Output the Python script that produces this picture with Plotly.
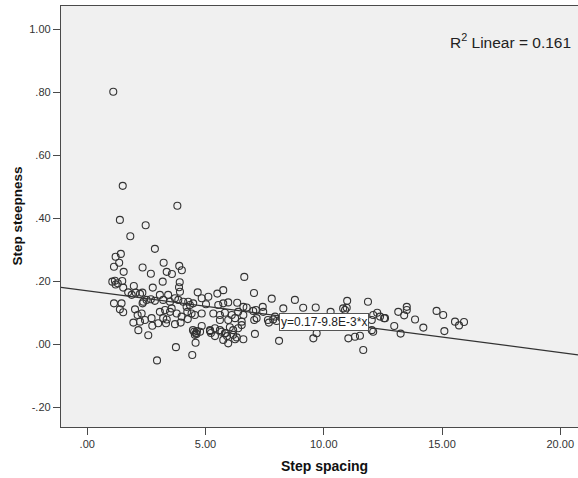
import plotly.graph_objects as go

# Step spacing (x) and step steepness (y) observations
step_spacing = [
    1.10, 1.50, 3.81, 1.38, 2.47, 1.82, 2.86, 1.20, 1.42, 1.35, 1.13, 1.54, 2.34, 2.69, 3.23, 3.36,
    3.58, 3.89, 4.00, 6.64, 1.06, 1.17, 1.29, 1.48, 1.20, 1.52, 2.77, 3.19, 3.91, 3.88, 1.97, 7.05,
    1.73, 1.88, 2.05, 2.23, 2.33, 2.37, 2.34, 2.51, 2.69, 2.86, 3.07, 3.21, 3.42, 3.50, 3.71, 3.92,
    3.85, 4.06, 4.27, 4.34, 4.20, 4.48, 4.67, 1.13, 1.45, 1.38, 1.52, 2.02, 2.30, 2.13, 1.95, 2.23,
    2.44, 2.16, 2.58, 2.75, 2.72, 3.00, 3.07, 3.21, 3.33, 3.36, 3.29, 3.50, 3.57, 3.71, 3.95, 3.99,
    4.25, 4.23, 4.41, 3.78, 4.52, 4.60, 4.55, 4.47, 4.58, 3.75, 4.44, 2.95, 4.84, 5.12, 5.50, 5.75,
    5.02, 5.54, 5.75, 5.96, 6.34, 6.60, 6.74, 7.02, 7.13, 7.42, 7.44, 7.80, 8.29, 8.78, 7.94, 7.86,
    7.68, 8.01, 4.84, 4.55, 5.33, 5.61, 5.82, 6.11, 6.38, 6.60, 5.61, 5.96, 6.25, 6.53, 7.06, 7.16,
    4.84, 5.19, 5.40, 5.61, 5.68, 6.03, 6.17, 6.38, 6.53, 4.77, 5.40, 5.82, 6.17, 6.32, 5.75, 5.96,
    6.25, 6.60, 7.09, 8.11, 8.22, 7.64, 4.62, 4.64, 5.19, 5.23, 5.86, 5.91, 9.13, 9.66, 10.99, 10.82,
    10.97, 10.90, 11.87, 12.26, 12.09, 12.38, 12.55, 12.03, 12.03, 12.09, 9.56, 9.70, 11.04, 11.32,
    11.53, 11.67, 10.97, 10.29, 8.99, 9.92, 10.68, 8.57, 12.59, 12.98, 13.25, 13.15, 13.40, 13.51,
    13.51, 13.86, 14.21, 14.77, 15.05, 15.10, 15.55, 15.72, 15.93,
]
step_steepness = [
    0.802, 0.503, 0.440, 0.395, 0.378, 0.343, 0.303, 0.278, 0.287, 0.259, 0.246, 0.230, 0.244, 0.224, 0.259, 0.230,
    0.223, 0.249, 0.235, 0.214, 0.199, 0.202, 0.194, 0.201, 0.190, 0.180, 0.180, 0.199, 0.197, 0.181, 0.185, 0.163,
    0.165, 0.157, 0.164, 0.160, 0.164, 0.135, 0.130, 0.141, 0.143, 0.138, 0.157, 0.141, 0.157, 0.135, 0.146, 0.167,
    0.141, 0.135, 0.135, 0.125, 0.119, 0.130, 0.165, 0.130, 0.130, 0.111, 0.102, 0.111, 0.098, 0.093, 0.069, 0.072,
    0.077, 0.045, 0.029, 0.059, 0.083, 0.067, 0.103, 0.083, 0.067, 0.079, 0.109, 0.103, 0.114, 0.064, 0.069, 0.088,
    0.080, 0.103, 0.098, 0.098, 0.040, 0.036, 0.030, 0.045, 0.005, -0.009, -0.034, -0.051, 0.146, 0.151, 0.161, 0.172,
    0.127, 0.125, 0.130, 0.133, 0.132, 0.119, 0.117, 0.106, 0.109, 0.119, 0.103, 0.145, 0.114, 0.141, 0.088, 0.079,
    0.069, 0.074, 0.098, 0.093, 0.098, 0.093, 0.100, 0.093, 0.103, 0.093, 0.077, 0.077, 0.083, 0.072, 0.077, 0.083,
    0.058, 0.045, 0.051, 0.045, 0.040, 0.054, 0.045, 0.051, 0.061, 0.040, 0.026, 0.035, 0.030, 0.022, 0.014, 0.003,
    0.016, 0.016, 0.033, 0.011, 0.083, 0.077, 0.033, 0.042, 0.042, 0.036, 0.036, 0.026, 0.116, 0.117, 0.138, 0.114,
    0.116, 0.109, 0.135, 0.100, 0.093, 0.088, 0.083, 0.077, 0.045, 0.040, 0.019, 0.035, 0.019, 0.024,
    0.027, -0.018, 0.061, 0.103, 0.077, 0.071, 0.083, 0.061, 0.083, 0.058, 0.034, 0.103, 0.092, 0.119,
    0.109, 0.079, 0.053, 0.106, 0.093, 0.042, 0.072, 0.060, 0.071,
]

# Fitted linear model y = a + b*x
intercept = 0.17
slope = -9.8e-3
r_squared = 0.161

x_ticks = [0, 5, 10, 15, 20]
x_tick_labels = [".00", "5.00", "10.00", "15.00", "20.00"]
y_ticks = [-0.2, 0.0, 0.2, 0.4, 0.6, 0.8, 1.0]
y_tick_labels = ["-.20", ".00", ".20", ".40", ".60", ".80", "1.00"]

x_range = [-1.11, 20.75]
y_range = [-0.2625, 1.074]

FONT = "Liberation Sans, Arial, sans-serif"
FRAME = "#4a4a4a"

fig = go.Figure()

fig.add_trace(go.Scatter(
    x=step_spacing, y=step_steepness, mode="markers",
    marker=dict(symbol="circle-open", size=7, color="#333333", line=dict(width=1.1, color="#333333")),
    hoverinfo="x+y", showlegend=False,
))

fit_x = x_range
fit_y = [intercept + slope * v for v in fit_x]
fig.add_trace(go.Scatter(
    x=fit_x, y=fit_y, mode="lines",
    line=dict(color="#333333", width=1.3), showlegend=False, hoverinfo="skip",
))

# Equation label sitting on the fit line
eq_x = 10.0
fig.add_annotation(
    x=eq_x, y=intercept + slope * eq_x, xref="x", yref="y",
    text="y=0.17-9.8E-3*x", showarrow=False,
    font=dict(family=FONT, size=12, color="#222222"),
    bgcolor="white", bordercolor="#555555", borderwidth=1, borderpad=1,
)

fig.add_annotation(
    x=0.99, y=0.918, xref="paper", yref="paper", xanchor="right", yanchor="middle",
    text=f"R<sup>2</sup> Linear = {r_squared}", showarrow=False,
    font=dict(family=FONT, size=15.5, color="#222222"),
)

# Axis titles
fig.add_annotation(
    x=-44 / 517, y=0.5, xref="paper", yref="paper", xanchor="center", yanchor="middle",
    text="<b>Step steepness</b>", textangle=-90, showarrow=False,
    font=dict(family=FONT, size=13.5, color="#111111"),
)
fig.add_annotation(
    x=(324 - 61) / 517, y=-39 / 421, xref="paper", yref="paper", xanchor="center", yanchor="middle",
    text="<b>Step spacing</b>", showarrow=False,
    font=dict(family=FONT, size=14, color="#111111"),
)

axis_common = dict(
    showgrid=False, zeroline=False, showline=True, linecolor=FRAME, linewidth=1.3, mirror=True,
    ticks="outside", ticklen=7, tickwidth=1.2, tickcolor=FRAME,
    tickfont=dict(family=FONT, size=11, color="#333333"),
)

fig.update_xaxes(range=x_range, tickvals=x_ticks, ticktext=x_tick_labels, **axis_common)
fig.update_yaxes(range=y_range, tickvals=y_ticks, ticktext=y_tick_labels, **axis_common)

fig.update_layout(
    width=578, height=478,
    margin=dict(l=61, r=0, t=6, b=51),
    paper_bgcolor="white", plot_bgcolor="#f0f0f0",
    font=dict(family=FONT),
)

fig.write_html("out.html")
